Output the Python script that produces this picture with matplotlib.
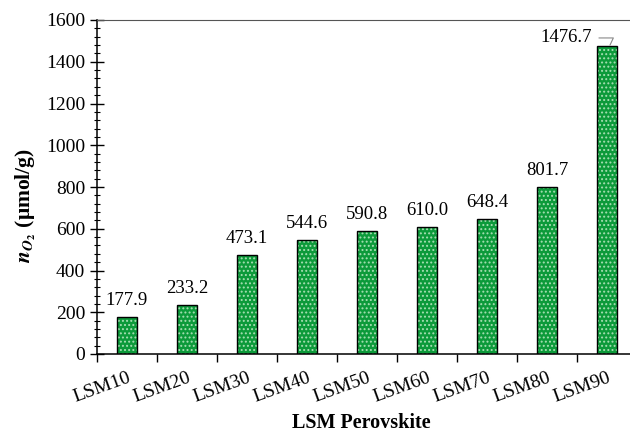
import matplotlib
matplotlib.use("Agg")
import matplotlib.pyplot as plt
from matplotlib.ticker import MultipleLocator, FixedLocator

categories = ["LSM10", "LSM20", "LSM30", "LSM40", "LSM50", "LSM60", "LSM70", "LSM80", "LSM90"]
values = [177.9, 233.2, 473.1, 544.6, 590.8, 610.0, 648.4, 801.7, 1476.7]
yticks = [0, 200, 400, 600, 800, 1000, 1200, 1400, 1600]

plt.rcParams['font.family'] = ['Liberation Serif', 'DejaVu Serif']
plt.rcParams['mathtext.fontset'] = 'stix'
plt.rcParams['hatch.linewidth'] = 0.9

fig = plt.figure(figsize=(6.3, 4.34), dpi=100)
ax = fig.add_axes([97/630, 1-354/434, 540/630, 334/434])

x = list(range(len(categories)))
ax.bar(x, values, width=0.333, color='#0c9a3a', edgecolor='#a6dfb2', hatch='....', linewidth=0, zorder=2)
ax.bar(x, values, width=0.333, fill=False, edgecolor='black', linewidth=1.0, zorder=3)

for xi, v in zip(x[:-1], values[:-1]):
    ax.text(xi, v + 38, f"{v:.1f}", ha='center', va='bottom', fontsize=13.5)
ax.annotate(f"{values[-1]:.1f}", xy=(x[-1] + 0.05, values[-1] + 3), xytext=(x[-1] - 0.25, 1514),
            ha='right', va='center', fontsize=13.5,
            arrowprops=dict(arrowstyle='-', color='#888888', lw=0.8,
                            connectionstyle='angle,angleA=0,angleB=65,rad=0', shrinkA=3, shrinkB=0))

ax.set_xlim(-0.5, len(categories) - 0.5)
ax.set_ylim(0, 1600)
ax.set_yticks(yticks)
ax.yaxis.set_minor_locator(MultipleLocator(40))
ax.tick_params(axis='y', which='major', direction='inout', length=10, width=1, labelsize=14)
ax.tick_params(axis='y', which='minor', direction='inout', length=5, width=0.8)

ax.set_xticks(x)
ax.set_xticklabels(categories, rotation=20, ha='right', rotation_mode='anchor', fontsize=14)
ax.tick_params(axis='x', which='major', length=0, pad=11)
ax.xaxis.set_minor_locator(FixedLocator([i + 0.5 for i in range(-1, len(categories))]))
ax.tick_params(axis='x', which='minor', direction='out', length=6, width=1)

for s in ['left', 'bottom']:
    ax.spines[s].set_linewidth(1.1)
ax.spines['top'].set_color('#555555')
ax.spines['right'].set_visible(False)

ax.set_xlabel("LSM Perovskite", fontsize=14.5, fontweight='bold', va='center')
ax.xaxis.set_label_coords(0.49, (354 - 423) / 334)
ax.set_ylabel(r"$\mathbfit{n}_{\mathbfit{O}_\mathbf{2}}$ (μmol/g)", fontsize=15.5, fontweight='bold', va='center')
ax.yaxis.set_label_coords((26 - 97) / 540, (354 - 206) / 334)

fig.savefig("out.png", dpi=100)
